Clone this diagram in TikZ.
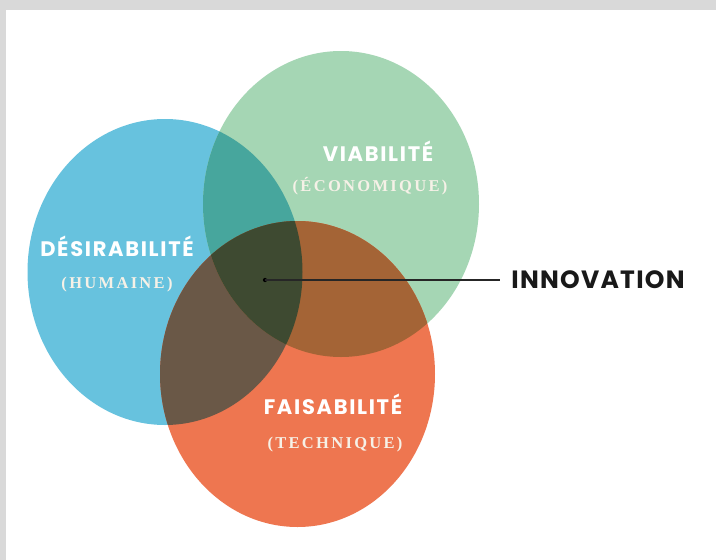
\documentclass[tikz,border=0pt]{standalone}
\usepackage{xcolor}
\usepackage{fontspec}
\newfontfamily\headfont{Poppins}[LetterSpace=8]
\newfontfamily\subfont{Liberation Serif}[LetterSpace=14]

\definecolor{framegray}{HTML}{D9D9D9}
\definecolor{bluec}{HTML}{67C2DE}
\definecolor{greenc}{HTML}{A5D6B4}
\definecolor{orangec}{HTML}{EE7650}
\definecolor{bluegreen}{HTML}{47A69D}
\definecolor{blueorange}{HTML}{6A5847}
\definecolor{greenorange}{HTML}{A46436}
\definecolor{allthree}{HTML}{3E4A31}
\definecolor{cream}{HTML}{F6F1E7}

\def\blueshape{(165,272) ellipse [x radius=137.5, y radius=153]}
\def\greenshape{(341,204) ellipse [x radius=138, y radius=153]}
\def\orangeshape{(297.5,374) ellipse [x radius=137.5, y radius=153]}

\tikzset{
  title/.style={text=white, font=\headfont\bfseries\fontsize{21}{21}\selectfont, inner sep=0pt},
  subtitle/.style={text=cream, font=\subfont\bfseries\fontsize{16.5}{16.5}\selectfont, inner sep=0pt}
}

\begin{document}
\begin{tikzpicture}[x=1pt,y=-1pt]
\useasboundingbox (0,0) rectangle (716,560);
\fill[framegray] (0,0) rectangle (716,560);
\fill[white] (6,10) rectangle (716,560);

% the three circles
\fill[bluec] \blueshape;
\fill[greenc] \greenshape;
\fill[orangec] \orangeshape;

% overlaps
\begin{scope}
\clip \blueshape;
\fill[bluegreen] \greenshape;
\fill[blueorange] \orangeshape;
\end{scope}
\begin{scope}
\clip \greenshape;
\fill[greenorange] \orangeshape;
\end{scope}
\begin{scope}
\clip \blueshape;
\clip \greenshape;
\fill[allthree] \orangeshape;
\end{scope}

% labels
\node at (117,246) [title] (desir) {DÉSIRABILITÉ};
\node at (117,285) [subtitle] (humaine) {(HUMAINE)};
\node at (378,151) [title] (viab) {VIABILITÉ};
\node at (370,186) [subtitle] (econ) {(ÉCONOMIQUE)};
\node at (333,404) [title] (faisab) {FAISABILITÉ};
\node at (335,445) [subtitle] (techn) {(TECHNIQUE)};

\node at (265,280) [circle,fill=black,inner sep=1.5pt] (dot) {};
\node at (598,280) [text=black!90, font=\headfont\addfontfeature{LetterSpace=5}\bfseries\fontsize{25}{25}\selectfont, inner sep=0pt] (innov) {INNOVATION};
\coordinate (lineend) at (500,280);
\draw[black!85, line width=1.2pt] (dot.center) -- (lineend);
\end{tikzpicture}
\end{document}
